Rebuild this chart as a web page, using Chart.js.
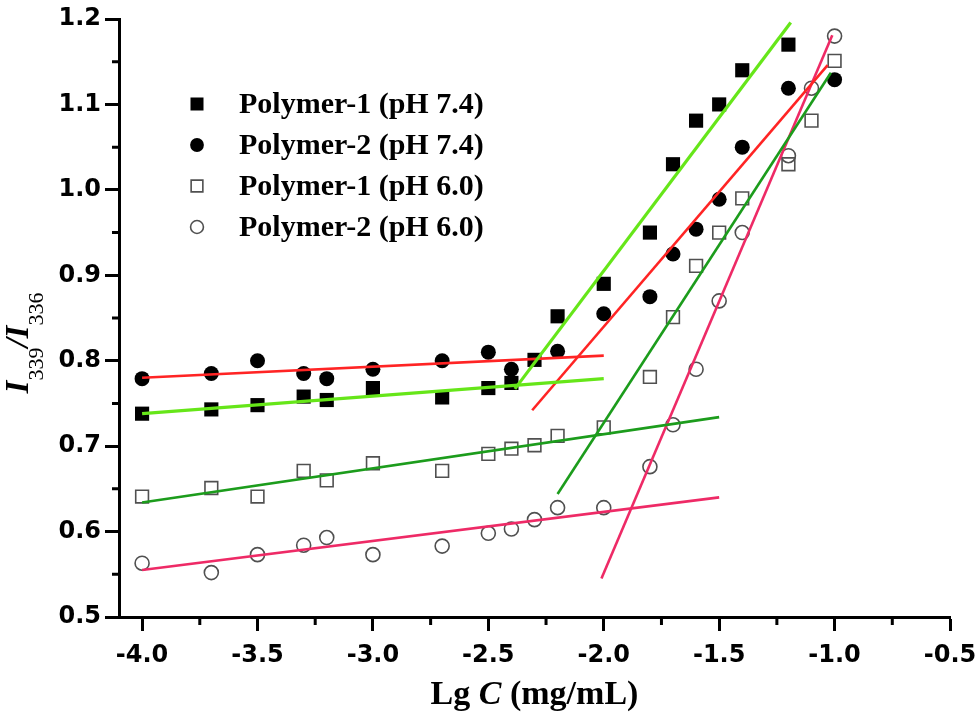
<!DOCTYPE html>
<html><head><meta charset="utf-8">
<script src="https://cdn.jsdelivr.net/npm/chart.js@4.4.0/dist/chart.umd.min.js"></script>
<style>html,body{margin:0;padding:0;background:#fff;}canvas{display:block;}</style>
</head><body>
<canvas id="c" width="980" height="718"></canvas>
<script>
// ---- data ----
const seriesNames = ['Polymer-1 (pH 7.4)', 'Polymer-2 (pH 7.4)', 'Polymer-1 (pH 6.0)', 'Polymer-2 (pH 6.0)'];

const xP1_74 = [-4.0,-3.7,-3.5,-3.3,-3.2,-3.0,-2.7,-2.5,-2.4,-2.3,-2.2,-2.0,-1.8,-1.7,-1.6,-1.5,-1.4,-1.2];
const yP1_74 = [0.738,0.743,0.748,0.758,0.754,0.768,0.757,0.768,0.774,0.801,0.852,0.890,0.950,1.030,1.081,1.100,1.140,1.170];

const xP2_74 = [-4.0,-3.7,-3.5,-3.3,-3.2,-3.0,-2.7,-2.5,-2.4,-2.2,-2.0,-1.8,-1.7,-1.6,-1.5,-1.4,-1.2,-1.0];
const yP2_74 = [0.779,0.785,0.800,0.785,0.779,0.790,0.800,0.810,0.790,0.811,0.855,0.875,0.925,0.954,0.989,1.050,1.119,1.129];

const xP1_60 = [-4.0,-3.7,-3.5,-3.3,-3.2,-3.0,-2.7,-2.5,-2.4,-2.3,-2.2,-2.0,-1.8,-1.7,-1.6,-1.5,-1.4,-1.2,-1.1,-1.0];
const yP1_60 = [0.641,0.651,0.641,0.671,0.660,0.680,0.671,0.691,0.697,0.701,0.712,0.722,0.781,0.851,0.911,0.950,0.990,1.030,1.081,1.151];

const xP2_60 = [-4.0,-3.7,-3.5,-3.3,-3.2,-3.0,-2.7,-2.5,-2.4,-2.3,-2.2,-2.0,-1.8,-1.7,-1.6,-1.5,-1.4,-1.2,-1.1,-1.0];
const yP2_60 = [0.563,0.552,0.573,0.584,0.593,0.573,0.583,0.598,0.603,0.614,0.628,0.628,0.676,0.725,0.790,0.870,0.950,1.040,1.119,1.180];

// fitted lines (end points)
const fitP1_74_low_x  = [-4.0, -2.0],   fitP1_74_low_y  = [0.738, 0.779];
const fitP1_74_high_x = [-2.385, -1.19], fitP1_74_high_y = [0.767, 1.196];
const fitP2_74_low_x  = [-4.0, -2.0],   fitP2_74_low_y  = [0.780, 0.806];
const fitP2_74_high_x = [-2.31, -1.03], fitP2_74_high_y = [0.742, 1.146];
const fitP1_60_low_x  = [-4.0, -1.5],   fitP1_60_low_y  = [0.634, 0.734];
const fitP1_60_high_x = [-2.2, -1.016], fitP1_60_high_y = [0.644, 1.137];
const fitP2_60_low_x  = [-4.0, -1.5],   fitP2_60_low_y  = [0.555, 0.640];
const fitP2_60_high_x = [-2.01, -1.01], fitP2_60_high_y = [0.545, 1.181];

// axis ticks
const xTickValues  = [-4.0,-3.5,-3.0,-2.5,-2.0,-1.5,-1.0,-0.5];
const xMinorTicks  = [-3.75,-3.25,-2.75,-2.25,-1.75,-1.25,-0.75];
const yTickValues  = [0.5,0.6,0.7,0.8,0.9,1.0,1.1,1.2];
const yMinorTicks  = [0.55,0.65,0.75,0.85,0.95,1.05,1.15];

// ---- build ----
const pts = (xs, ys) => xs.map((x, i) => ({x: x, y: ys[i]}));

const GREEN_BRIGHT = '#66e619';
const RED = '#ff2424';
const GREEN_DARK = '#1c9c1c';
const PINK = '#ee2a66';
const OPEN = '#505050';

const markerStyles = [
  {pointStyle: 'rect',   radius: 10,  fill: '#000', stroke: '#000', bw: 0},
  {pointStyle: 'circle', radius: 7.5, fill: '#000', stroke: '#000', bw: 0},
  {pointStyle: 'rect',   radius: 9,   fill: '#fff', stroke: OPEN, bw: 1.6},
  {pointStyle: 'circle', radius: 7,   fill: '#fff', stroke: OPEN, bw: 1.6}
];

function scatterDs(name, data, m) {
  return {label: name, data: data, showLine: false, order: 2,
    pointStyle: m.pointStyle, pointRadius: m.radius, pointHoverRadius: m.radius,
    backgroundColor: m.fill === '#fff' ? 'rgba(255,255,255,0)' : m.fill,
    borderColor: m.stroke, pointBorderWidth: m.bw, borderWidth: m.bw};
}
function lineDs(data, color, w) {
  return {label: '', data: data, showLine: true, order: 1, pointRadius: 0,
    borderColor: color, borderWidth: w, backgroundColor: color, fill: false};
}

const datasets = [
  scatterDs(seriesNames[0], pts(xP1_74, yP1_74), markerStyles[0]),
  scatterDs(seriesNames[1], pts(xP2_74, yP2_74), markerStyles[1]),
  scatterDs(seriesNames[2], pts(xP1_60, yP1_60), markerStyles[2]),
  scatterDs(seriesNames[3], pts(xP2_60, yP2_60), markerStyles[3]),
  lineDs(pts(fitP1_74_low_x, fitP1_74_low_y), GREEN_BRIGHT, 3.2),
  lineDs(pts(fitP1_74_high_x, fitP1_74_high_y), GREEN_BRIGHT, 3.2),
  lineDs(pts(fitP2_74_low_x, fitP2_74_low_y), RED, 2.6),
  lineDs(pts(fitP2_74_high_x, fitP2_74_high_y), RED, 2.6),
  lineDs(pts(fitP1_60_low_x, fitP1_60_low_y), GREEN_DARK, 2.6),
  lineDs(pts(fitP1_60_high_x, fitP1_60_high_y), GREEN_DARK, 2.6),
  lineDs(pts(fitP2_60_low_x, fitP2_60_low_y), PINK, 2.6),
  lineDs(pts(fitP2_60_high_x, fitP2_60_high_y), PINK, 2.6)
];

const tickFont = {family: 'DejaVu Sans', weight: 'bold', size: 24};

const decorPlugin = {
  id: 'decor',
  afterDraw(chart) {
    const ctx = chart.ctx;
    const xs = chart.scales.x, ys = chart.scales.y;
    ctx.save();
    // minor ticks
    ctx.strokeStyle = '#000';
    ctx.lineWidth = 3;
    ctx.beginPath();
    xMinorTicks.forEach(v => {
      const px = xs.getPixelForValue(v);
      ctx.moveTo(px, ys.bottom); ctx.lineTo(px, ys.bottom + 8);
    });
    yMinorTicks.forEach(v => {
      const py = ys.getPixelForValue(v);
      ctx.moveTo(xs.left, py); ctx.lineTo(xs.left - 7, py);
    });
    ctx.stroke();

    // legend
    const legX = 197, textX = 239, rows = [104, 145, 186, 227];
    ctx.font = 'bold 30px "Liberation Serif"';
    ctx.textBaseline = 'middle';
    ctx.textAlign = 'left';
    seriesNames.forEach((name, i) => {
      const m = markerStyles[i];
      ctx.fillStyle = m.fill;
      ctx.strokeStyle = m.stroke;
      ctx.lineWidth = m.bw;
      Chart.helpers.drawPoint(ctx, {pointStyle: m.pointStyle, radius: m.radius * 0.92, rotation: 0, borderWidth: m.bw}, legX, rows[i]);
      ctx.fillStyle = '#000';
      ctx.fillText(name, textX, rows[i] + 1);
    });

    // x axis title: "Lg C (mg/mL)" with italic C
    const xParts = [
      {t: 'Lg ', f: 'bold 34px "Liberation Serif"'},
      {t: 'C', f: 'italic bold 34px "Liberation Serif"'},
      {t: ' (mg/mL)', f: 'bold 34px "Liberation Serif"'}
    ];
    let tw = 0;
    xParts.forEach(p => { ctx.font = p.f; p.w = ctx.measureText(p.t).width; tw += p.w; });
    let cx = (xs.left + xs.right) / 2 - tw / 2;
    ctx.textBaseline = 'alphabetic';
    ctx.fillStyle = '#000';
    xParts.forEach(p => { ctx.font = p.f; ctx.fillText(p.t, cx, 704); cx += p.w; });

    // y axis title: I339/I336, rotated
    const yParts = [
      {t: 'I', f: 'italic bold 33px "Liberation Serif"', dy: 0},
      {t: '339', f: '22px "Liberation Serif"', dy: 15},
      {t: '/', f: 'italic bold 33px "Liberation Serif"', dy: 0},
      {t: 'I', f: 'italic bold 33px "Liberation Serif"', dy: 0},
      {t: '336', f: '22px "Liberation Serif"', dy: 15}
    ];
    let yw = 0;
    yParts.forEach(p => { ctx.font = p.f; p.w = ctx.measureText(p.t).width; yw += p.w; });
    ctx.translate(28, 343);
    ctx.rotate(-Math.PI / 2);
    let lx = -yw / 2;
    yParts.forEach(p => { ctx.font = p.f; ctx.fillText(p.t, lx, p.dy); lx += p.w; });
    ctx.restore();
  }
};

new Chart(document.getElementById('c'), {
  type: 'scatter',
  data: {datasets: datasets},
  options: {
    responsive: false,
    animation: false,
    devicePixelRatio: 1,
    layout: {padding: {left: 0, right: 30, top: 19, bottom: 0}},
    plugins: {legend: {display: false}, tooltip: {enabled: false}},
    scales: {
      x: {
        type: 'linear', min: -4.1, max: -0.5,
        afterBuildTicks: s => { s.ticks = xTickValues.map(v => ({value: v})); },
        afterFit: s => { s.height = 101; s.paddingRight = 0; s.paddingLeft = 0; },
        ticks: {font: tickFont, color: '#000', padding: 10, maxRotation: 0, autoSkip: false,
          callback: v => v.toFixed(1)},
        grid: {display: true, drawOnChartArea: false, drawTicks: true, tickLength: 14, tickWidth: 3, tickColor: '#000'},
        border: {display: true, color: '#000', width: 3}
      },
      y: {
        type: 'linear', min: 0.5, max: 1.2,
        afterBuildTicks: s => { s.ticks = yTickValues.map(v => ({value: v})); },
        afterFit: s => { s.width = 119; s.paddingTop = 0; s.paddingBottom = 0; },
        ticks: {font: tickFont, color: '#000', padding: 4, autoSkip: false,
          callback: v => v.toFixed(1)},
        grid: {display: true, drawOnChartArea: false, drawTicks: true, tickLength: 14, tickWidth: 3, tickColor: '#000'},
        border: {display: true, color: '#000', width: 3}
      }
    }
  },
  plugins: [decorPlugin]
});
</script>
</body></html>
